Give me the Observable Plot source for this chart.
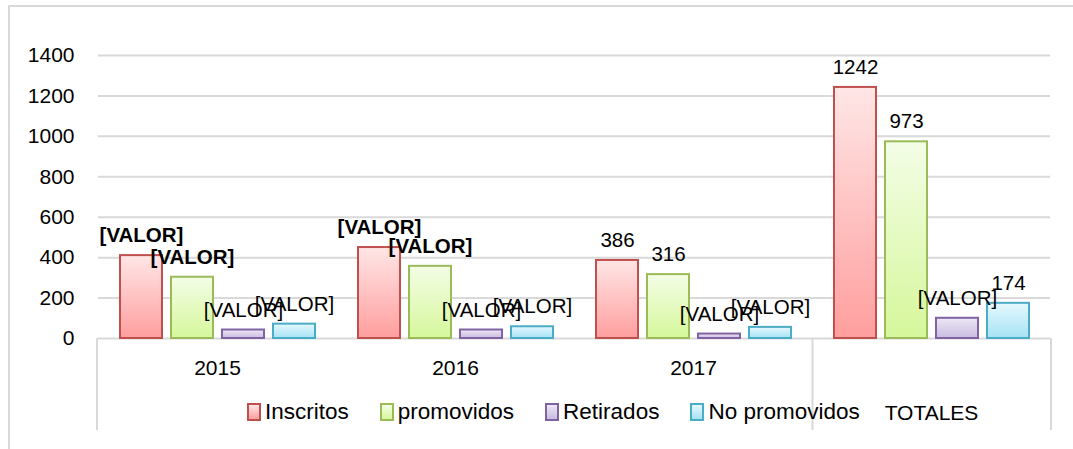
<!DOCTYPE html>
<html>
<head>
<meta charset="utf-8">
<script src="https://cdn.jsdelivr.net/npm/d3@7"></script>
<script src="https://cdn.jsdelivr.net/npm/@observablehq/plot@0.6"></script>
<style>
  html, body { margin: 0; padding: 0; background: #fff; }
  #wrap { position: relative; width: 1073px; height: 449px; overflow: hidden; font-family: "Liberation Sans", Arial, sans-serif; }
  #border { position: absolute; left: 8px; top: 5px; right: -2px; bottom: -2px; border-top: 2px solid #d9d9d9; border-left: 2px solid #d9d9d9; pointer-events: none; }
  #legend { position: absolute; left: 247px; top: 399px; display: flex; align-items: center; font-size: 22.5px; color: #000; }
  #legend .item { display: flex; align-items: center; margin-right: 31px; }
  #legend .sw { width: 10px; height: 14px; border: 2px solid; margin-right: 4px; box-sizing: content-box; }
</style>
</head>
<body>
<div id="wrap">
  <div id="chart"></div>
  <div id="border"></div>
  <div id="legend"></div>
</div>
<script>
// ---- data ----
const categories = ["2015", "2016", "2017", "TOTALES"];
const series = ["Inscritos", "promovidos", "Retirados", "No promovidos"];
const inscritos    = [410, 450, 386, 1242];
const promovidos   = [303, 357, 316, 973];
const retirados    = [42, 42, 22, 100];
const noPromovidos = [71, 58, 55, 174];
const labelInscritos    = ["[VALOR]", "[VALOR]", "386", "1242"];
const labelPromovidos   = ["[VALOR]", "[VALOR]", "316", "973"];
const labelRetirados    = ["[VALOR]", "[VALOR]", "[VALOR]", "[VALOR]"];
const labelNoPromovidos = ["[VALOR]", "[VALOR]", "[VALOR]", "174"];
const boldInscritos    = [true, true, false, false];
const boldPromovidos   = [true, true, false, false];
const yTicks = [0, 200, 400, 600, 800, 1000, 1200, 1400];

// ---- styles ----
const gradients = [
  {id: "g0", top: "#ffe6e6", bottom: "#ff9e9e", stroke: "#c0504d"},
  {id: "g1", top: "#f3fde6", bottom: "#d6f79b", stroke: "#9bbb59"},
  {id: "g2", top: "#ede7f5", bottom: "#c9bce0", stroke: "#8064a2"},
  {id: "g3", top: "#e6f8fe", bottom: "#a6e3f5", stroke: "#4bacc6"}
];

const values = [inscritos, promovidos, retirados, noPromovidos];
const labels = [labelInscritos, labelPromovidos, labelRetirados, labelNoPromovidos];
const bolds = [boldInscritos, boldPromovidos, [false,false,false,false], [false,false,false,false]];

const rows = [];
categories.forEach((c, ci) => {
  series.forEach((s, si) => {
    rows.push({category: c, series: s, si, value: values[si][ci], label: labels[si][ci], bold: bolds[si][ci]});
  });
});

const font = "Liberation Sans, Arial, sans-serif";

const chart = Plot.plot({
  width: 1073,
  height: 449,
  marginLeft: 97,
  marginRight: 22,
  marginTop: 55,
  marginBottom: 111,
  style: {fontFamily: font, fontSize: "21px", color: "#000", background: "transparent", overflow: "visible"},
  fx: {domain: categories, padding: 0, axis: null},
  x: {domain: series, paddingInner: 0.18, paddingOuter: 0.41, axis: null},
  y: {domain: [0, 1400], axis: null},
  color: {type: "identity"},
  marks: [
    Plot.ruleY(yTicks, {stroke: "#d9d9d9", strokeWidth: 2}),
    Plot.axisY({ticks: yTicks, tickSize: 0, tickPadding: 24, tickFormat: d => String(d), fontSize: 21, label: null}),
    Plot.barY(rows, {
      fx: "category", x: "series", y: "value",
      fill: d => `url(#${gradients[d.si].id})`,
      stroke: d => gradients[d.si].stroke,
      strokeWidth: 2,
      style: "filter: drop-shadow(2px 2px 2px rgba(0,0,0,0.18))"
    }),
    Plot.text(rows.filter(d => d.bold), {
      fx: "category", x: "series", y: "value", text: "label",
      dy: -20, fontWeight: "bold", fontSize: 20.5, fill: "#000"
    }),
    Plot.text(rows.filter(d => !d.bold), {
      fx: "category", x: "series", y: "value", text: "label",
      dy: -20, fontSize: 20.5, fill: "#000"
    }),
    Plot.text(categories.filter(c => c !== "TOTALES"), {
      fx: d => d, text: d => d, frameAnchor: "bottom", dy: 36, fontSize: 21, fill: "#000"
    }),
    Plot.text(categories.filter(c => c === "TOTALES"), {
      fx: d => d, text: d => d, frameAnchor: "bottom", dy: 81, fontSize: 21, fill: "#000"
    })
  ]
});

// gradient defs
const svg = d3.select(chart);
const defs = svg.insert("defs", ":first-child");
gradients.forEach(g => {
  const lg = defs.append("linearGradient").attr("id", g.id).attr("x1", 0).attr("y1", 0).attr("x2", 0).attr("y2", 1);
  lg.append("stop").attr("offset", "0%").attr("stop-color", g.top);
  lg.append("stop").attr("offset", "100%").attr("stop-color", g.bottom);
});

// category box dividers under the baseline, from the fx scale
const fxs = chart.scale("fx");
const ys = chart.scale("y");
const [r0, r1] = fxs.range;
const step = (r1 - r0) / fxs.domain.length;
const y0 = ys.range[0];
const dividers = [r0, r0 + step * categories.indexOf("TOTALES"), r1];
svg.append("g").selectAll("line").data(dividers).join("line")
  .attr("x1", d => d).attr("x2", d => d)
  .attr("y1", y0).attr("y2", y0 + 92)
  .attr("stroke", "#d9d9d9").attr("stroke-width", 2);

document.getElementById("chart").appendChild(chart);

// legend
const legend = d3.select("#legend");
series.forEach((s, i) => {
  const it = legend.append("div").attr("class", "item");
  it.append("div").attr("class", "sw")
    .style("border-color", gradients[i].stroke)
    .style("background", `linear-gradient(${gradients[i].top}, ${gradients[i].bottom})`);
  it.append("span").text(s);
});
</script>
</body>
</html>
